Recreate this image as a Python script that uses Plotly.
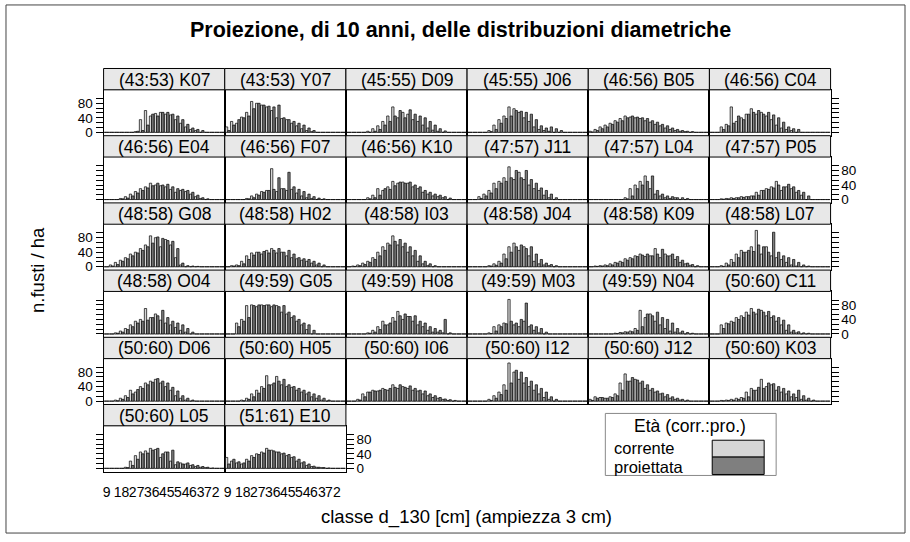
import plotly.graph_objects as go

# ---------------- data ----------------
classes = list(range(9, 81, 3))  # diameter classes 9..78 cm
x_tick_vals = [9, 18, 27, 36, 45, 54, 63, 72]
x_tick_text = ["9", "18", "27", "36", "45", "54", "63", "72"]
y_tick_vals = [0, 40 / 3, 80 / 3, 40, 160 / 3, 200 / 3, 80, 280 / 3]
y_tick_text = ["0", "", "", "40", "", "", "80", ""]

panel_labels = [
    "(43:53) K07", "(43:53) Y07", "(45:55) D09", "(45:55) J06", "(46:56) B05", "(46:56) C04",
    "(46:56) E04", "(46:56) F07", "(46:56) K10", "(47:57) J11", "(47:57) L04", "(47:57) P05",
    "(48:58) G08", "(48:58) H02", "(48:58) I03", "(48:58) J04", "(48:58) K09", "(48:58) L07",
    "(48:58) O04", "(49:59) G05", "(49:59) H08", "(49:59) M03", "(49:59) N04", "(50:60) C11",
    "(50:60) D06", "(50:60) H05", "(50:60) I06", "(50:60) I12", "(50:60) J12", "(50:60) K03",
    "(50:60) L05", "(51:61) E10",
]

K07_corr = [0,0,0,0,0,0,2,35,60,45,52,55,50,48,35,25,15,8,5,0,0,0,0,0]
K07_proi = [0,0,0,0,0,0,3,5,20,50,45,55,55,50,45,35,22,12,8,5,0,0,0,0]
Y07_corr = [15,30,25,42,55,85,80,75,70,60,40,38,35,25,18,10,5,2,0,0,0,0,0,0]
Y07_proi = [5,20,35,40,45,65,80,75,72,70,75,40,35,30,25,20,12,5,0,0,0,0,0,0]
D09_corr = [0,0,0,0,3,10,18,30,45,70,40,55,50,35,30,20,12,6,3,0,0,0,0,0]
D09_proi = [0,0,0,0,0,3,8,20,30,45,60,40,62,50,45,40,30,20,10,4,0,0,0,0]
J06_corr = [0,0,0,0,5,20,35,45,70,65,55,40,30,15,8,5,3,0,0,0,0,0,0,0]
J06_proi = [0,0,0,0,2,8,25,38,45,60,58,55,50,35,18,12,15,10,5,0,0,0,0,0]
B05_corr = [3,8,15,20,25,32,38,45,42,40,38,32,28,22,18,12,8,5,3,2,0,0,0,0]
B05_proi = [1,5,10,15,22,28,32,40,45,42,40,38,32,28,22,18,12,8,5,3,2,0,0,0]
C04_corr = [0,0,15,22,70,30,40,50,65,50,55,45,35,20,12,8,5,0,0,0,0,0,0,0]
C04_proi = [0,0,8,18,25,45,35,50,55,60,50,55,48,40,28,15,10,8,0,0,0,0,0,0]
E04_corr = [0,0,0,3,8,15,22,30,35,45,40,38,35,28,20,25,22,15,8,3,0,0,0,0]
E04_proi = [0,0,0,2,4,10,18,25,32,38,45,40,42,35,30,28,25,20,12,5,2,0,0,0]
F07_corr = [0,0,0,0,3,10,15,22,25,85,22,30,25,28,18,10,5,3,0,0,0,0,0,0]
F07_proi = [0,0,0,0,2,5,12,20,25,28,60,30,75,35,28,22,15,8,4,2,0,0,0,0]
K10_corr = [0,0,0,0,5,12,30,25,35,50,45,48,45,35,30,20,15,10,8,5,0,0,0,0]
K10_proi = [0,0,0,0,2,5,12,30,28,38,48,45,48,40,35,25,20,15,12,8,4,0,0,0]
J11_corr = [0,0,8,15,25,45,50,60,90,55,75,55,40,30,25,12,5,0,0,0,0,0,0,0]
J11_proi = [0,0,3,10,18,30,45,50,60,80,60,80,55,45,32,25,15,5,0,0,0,0,0,0]
L04_corr = [0,0,0,0,0,0,0,5,30,40,50,65,30,15,10,5,3,5,0,0,0,0,0,0]
L04_proi = [0,0,0,0,0,0,0,2,10,30,40,50,65,25,15,10,8,5,5,3,0,0,0,0]
P05_corr = [0,0,2,3,5,5,8,8,10,20,25,30,35,50,25,35,30,20,12,0,0,0,0,0]
P05_proi = [0,0,1,2,3,5,6,8,10,12,25,28,32,40,35,42,35,25,20,10,0,0,0,0]
G08_corr = [0,5,12,18,25,35,40,50,60,85,80,55,75,60,25,5,0,0,0,0,0,0,0,0]
G08_proi = [0,2,6,15,22,30,38,45,55,65,82,78,72,70,50,10,3,2,1,0,0,0,0,0]
H02_corr = [0,3,5,15,30,38,40,35,45,50,38,40,30,25,22,18,15,10,5,0,0,0,0,0]
H02_proi = [0,2,3,8,20,32,40,42,38,45,50,40,45,35,25,22,20,15,10,5,0,0,0,0]
I03_corr = [0,2,5,10,15,25,40,55,65,85,60,55,40,30,15,8,3,0,0,0,0,0,0,0]
I03_proi = [0,1,3,6,12,20,30,45,60,70,75,65,55,45,30,15,8,3,0,0,0,0,0,0]
J04_corr = [0,0,0,0,3,8,15,35,55,65,45,55,30,15,8,5,3,0,0,0,0,0,0,0]
J04_proi = [0,0,0,0,2,4,10,22,40,55,60,50,55,35,20,10,6,3,0,0,0,0,0,0]
K09_corr = [0,2,3,5,8,12,15,22,25,30,35,28,30,50,25,35,30,20,12,8,4,0,0,0]
K09_proi = [0,1,2,3,5,10,12,18,22,28,32,35,30,35,48,30,35,28,18,10,6,3,0,0]
L07_corr = [0,0,3,10,20,35,45,40,55,100,35,55,30,25,20,12,5,2,0,0,0,0,0,0]
L07_proi = [0,0,1,5,12,25,40,45,42,60,55,40,95,40,30,25,20,12,5,2,0,0,0,0]
O04_corr = [0,0,3,8,15,25,35,40,70,45,55,38,30,25,18,10,5,0,0,0,0,0,0,0]
O04_proi = [0,0,2,5,12,20,30,35,38,45,50,65,45,35,30,25,15,5,0,0,0,0,0,0]
G05_corr = [0,0,30,40,78,80,75,80,80,75,78,60,55,45,35,25,12,0,0,0,0,0,0,0]
G05_proi = [0,0,20,35,45,78,80,78,80,80,75,78,60,50,40,30,25,10,0,0,0,0,0,0]
H08_corr = [0,0,0,0,3,10,20,35,25,45,62,40,48,35,25,20,10,5,5,3,0,0,0,0]
H08_proi = [0,0,0,0,2,5,12,25,30,35,50,55,48,50,35,30,20,15,10,40,3,0,0,0]
M03_corr = [0,0,0,0,3,20,25,30,95,25,20,35,20,10,3,0,0,0,0,0,0,0,0,0]
M03_proi = [0,0,0,0,1,8,20,28,35,30,40,85,25,20,15,5,0,0,0,0,0,0,0,0]
N04_corr = [0,0,0,0,0,2,4,6,8,15,65,45,55,35,25,15,8,5,3,0,0,0,0,0]
N04_proi = [0,0,0,0,0,1,3,5,6,10,20,55,50,60,45,40,30,15,8,4,2,0,0,0]
C11_corr = [0,0,25,30,35,45,50,60,70,55,65,50,45,35,25,10,5,3,0,0,0,0,0,0]
C11_proi = [0,0,15,28,32,40,45,52,60,68,60,62,50,45,38,25,10,6,3,2,0,0,0,0]
D06_corr = [0,0,3,8,15,30,25,40,50,55,60,50,40,30,15,8,3,0,0,0,0,0,0,0]
D06_proi = [0,0,1,5,10,20,32,35,45,52,62,55,50,38,28,15,8,3,0,0,0,0,0,0]
H05_corr = [0,0,0,3,8,20,30,40,70,45,68,45,40,38,30,25,20,12,8,3,0,0,0,0]
H05_proi = [0,0,0,1,5,12,22,35,45,50,55,60,45,40,35,30,25,20,15,8,3,0,0,0]
I06_corr = [0,0,5,20,25,30,28,35,30,45,35,40,35,30,28,20,15,10,8,5,2,0,0,0]
I06_proi = [0,0,3,12,25,28,30,32,35,38,45,38,42,35,30,28,20,15,10,6,4,2,0,0]
I12_corr = [0,0,0,0,5,15,25,45,105,80,60,50,40,30,20,10,5,0,0,0,0,0,0,0]
I12_proi = [0,0,0,0,2,8,18,30,50,85,80,65,55,45,35,25,12,5,0,0,0,0,0,0]
J12_corr = [5,12,10,8,12,20,50,75,55,60,50,35,30,25,20,12,8,5,3,0,0,0,0,0]
J12_proi = [2,8,10,8,10,15,30,55,65,58,55,45,35,28,22,18,12,8,5,3,0,0,0,0]
K03_corr = [0,0,2,3,5,8,10,25,35,30,60,40,45,30,25,20,12,10,5,3,0,0,0,0]
K03_proi = [0,0,1,2,3,5,8,12,30,38,35,50,48,40,35,28,20,30,15,8,3,0,0,0]
L05_corr = [0,0,0,0,3,20,35,45,48,55,52,30,45,20,10,15,12,8,5,3,2,0,0,0]
L05_proi = [0,0,0,0,2,8,25,40,42,50,55,40,45,50,18,12,15,10,8,5,3,1,0,0]
E10_corr = [30,20,15,12,25,35,40,45,55,50,45,40,35,30,20,15,8,5,3,2,0,0,0,0]
E10_proi = [12,25,18,15,20,30,38,42,50,48,45,42,38,32,25,18,12,6,3,2,1,0,0,0]

corrente = [K07_corr, Y07_corr, D09_corr, J06_corr, B05_corr, C04_corr,
            E04_corr, F07_corr, K10_corr, J11_corr, L04_corr, P05_corr,
            G08_corr, H02_corr, I03_corr, J04_corr, K09_corr, L07_corr,
            O04_corr, G05_corr, H08_corr, M03_corr, N04_corr, C11_corr,
            D06_corr, H05_corr, I06_corr, I12_corr, J12_corr, K03_corr,
            L05_corr, E10_corr]
proiettata = [K07_proi, Y07_proi, D09_proi, J06_proi, B05_proi, C04_proi,
              E04_proi, F07_proi, K10_proi, J11_proi, L04_proi, P05_proi,
              G08_proi, H02_proi, I03_proi, J04_proi, K09_proi, L07_proi,
              O04_proi, G05_proi, H08_proi, M03_proi, N04_proi, C11_proi,
              D06_proi, H05_proi, I06_proi, I12_proi, J12_proi, K03_proi,
              L05_proi, E10_proi]

# ---------------- layout geometry (pixels) ----------------
W, H = 910, 542
FONT = "Liberation Sans, Arial, Helvetica, sans-serif"
COL_LEFT, COL_W = 102.7, 121.3
ROW_TOP, ROW_H, STRIP_H = 69.0, 67.7, 21.5
NCOL = 6
C_LIGHT = "#d6d6d6"
C_DARK = "#7f7f7f"


def px(x):
    return x / W


def py(y):
    return 1 - y / H


fig = go.Figure()
shapes = []
annotations = []
layout_axes = {}

for k, label in enumerate(panel_labels):
    r, c = divmod(k, NCOL)
    n = k + 1
    sfx = "" if n == 1 else str(n)
    x0 = COL_LEFT + c * COL_W
    x1 = x0 + COL_W
    st = ROW_TOP + r * ROW_H
    pt = st + STRIP_H
    pb = st + ROW_H

    fig.add_trace(go.Bar(x=classes, y=corrente[k], xaxis="x" + sfx, yaxis="y" + sfx,
                         marker=dict(color=C_LIGHT, line=dict(color="black", width=0.7)),
                         name="corrente", showlegend=False))
    fig.add_trace(go.Bar(x=classes, y=proiettata[k], xaxis="x" + sfx, yaxis="y" + sfx,
                         marker=dict(color=C_DARK, line=dict(color="black", width=0.7)),
                         name="proiettata", showlegend=False))

    bottom_labels = k >= 30
    layout_axes["xaxis" + sfx] = dict(
        domain=[px(x0), px(x1)], range=[7.2, 79.8], anchor="y" + sfx,
        showline=True, linecolor="black", linewidth=1, mirror=True,
        showgrid=False, zeroline=False,
        tickmode="array", tickvals=x_tick_vals, ticktext=x_tick_text, tickangle=0,
        ticks="outside" if bottom_labels else "", ticklen=8, tickcolor="rgba(0,0,0,0)",
        showticklabels=bottom_labels, tickfont=dict(family=FONT, size=14, color="black"),
        fixedrange=True,
    )
    yax = dict(
        domain=[py(pb), py(pt)], range=[-9.2, 117], anchor="x" + sfx,
        showline=True, linecolor="black", linewidth=1, mirror=True,
        showgrid=False, zeroline=False,
        tickmode="array", tickvals=y_tick_vals, ticktext=y_tick_text,
        tickfont=dict(family=FONT, size=13.5, color="black"),
        fixedrange=True, ticks="", showticklabels=False,
    )
    if c == 0:
        yax.update(side="left", ticks="outside", ticklen=7, tickwidth=1, tickcolor="black",
                   showticklabels=(r % 2 == 0))
    elif c == NCOL - 1 or k == len(panel_labels) - 1:
        yax.update(side="right", ticks="outside", ticklen=7, tickwidth=1, tickcolor="black",
                   showticklabels=(r % 2 == 1))
    layout_axes["yaxis" + sfx] = yax

    # reference line at zero
    shapes.append(dict(type="line", xref="x" + sfx + " domain", yref="y" + sfx,
                       x0=0, x1=1, y0=0, y1=0, line=dict(color="#b0b0b0", width=1),
                       layer="below"))
    # strip
    shapes.append(dict(type="rect", xref="paper", yref="paper",
                       x0=px(x0), x1=px(x1), y0=py(pt), y1=py(st),
                       fillcolor="#e8e8e8", line=dict(color="black", width=1)))
    annotations.append(dict(text=label, xref="paper", yref="paper",
                            x=px((x0 + x1) / 2), y=py((st + pt) / 2 + 0.5),
                            xanchor="center", yanchor="middle", showarrow=False,
                            font=dict(family=FONT, size=17.5, color="black")))

# outer frame
shapes.append(dict(type="rect", xref="paper", yref="paper",
                   x0=px(5), x1=px(905), y0=py(537), y1=py(5),
                   line=dict(color="#444444", width=1), fillcolor="rgba(0,0,0,0)"))

# legend (key)
shapes.append(dict(type="rect", xref="paper", yref="paper",
                   x0=px(605), x1=px(776), y0=py(479), y1=py(416.5),
                   line=dict(color="#888888", width=1), fillcolor="white"))
shapes.append(dict(type="rect", xref="paper", yref="paper",
                   x0=px(712), x1=px(764), y0=py(460.5), y1=py(443.5),
                   line=dict(color="black", width=1), fillcolor=C_LIGHT))
shapes.append(dict(type="rect", xref="paper", yref="paper",
                   x0=px(712), x1=px(764), y0=py(478), y1=py(460.5),
                   line=dict(color="black", width=1), fillcolor=C_DARK))
annotations.append(dict(text="Età (corr.:pro.)", xref="paper", yref="paper",
                        x=px(690), y=py(429), xanchor="center", yanchor="middle",
                        showarrow=False, font=dict(family=FONT, size=17.5, color="black")))
annotations.append(dict(text="corrente", xref="paper", yref="paper",
                        x=px(612), y=py(451.5), xanchor="left", yanchor="middle",
                        showarrow=False, font=dict(family=FONT, size=16.5, color="black")))
annotations.append(dict(text="proiettata", xref="paper", yref="paper",
                        x=px(612), y=py(470), xanchor="left", yanchor="middle",
                        showarrow=False, font=dict(family=FONT, size=16.5, color="black")))

# titles
annotations.append(dict(text="<b>Proiezione, di 10 anni, delle distribuzioni diametriche</b>",
                        xref="paper", yref="paper", x=px(460), y=py(30),
                        xanchor="center", yanchor="middle", showarrow=False,
                        font=dict(family=FONT, size=21.5, color="black")))
annotations.append(dict(text="n.fusti / ha", xref="paper", yref="paper",
                        x=px(37), y=py(272), xanchor="center", yanchor="middle",
                        textangle=-90, showarrow=False,
                        font=dict(family=FONT, size=18.5, color="black")))
annotations.append(dict(text="classe d_130 [cm] (ampiezza 3 cm)", xref="paper", yref="paper",
                        x=px(466), y=py(521), xanchor="center", yanchor="middle",
                        showarrow=False, font=dict(family=FONT, size=18.5, color="black")))

fig.update_layout(
    width=W, height=H, autosize=False,
    margin=dict(l=0, r=0, t=0, b=0),
    paper_bgcolor="white", plot_bgcolor="white",
    barmode="group", bargap=0.08, bargroupgap=0.0,
    showlegend=False,
    shapes=shapes, annotations=annotations,
    font=dict(family=FONT, color="black"),
    **layout_axes,
)

fig.write_html("out.html", config={"displayModeBar": False},
               post_script="document.body.style.margin='0';document.body.style.padding='0';")
